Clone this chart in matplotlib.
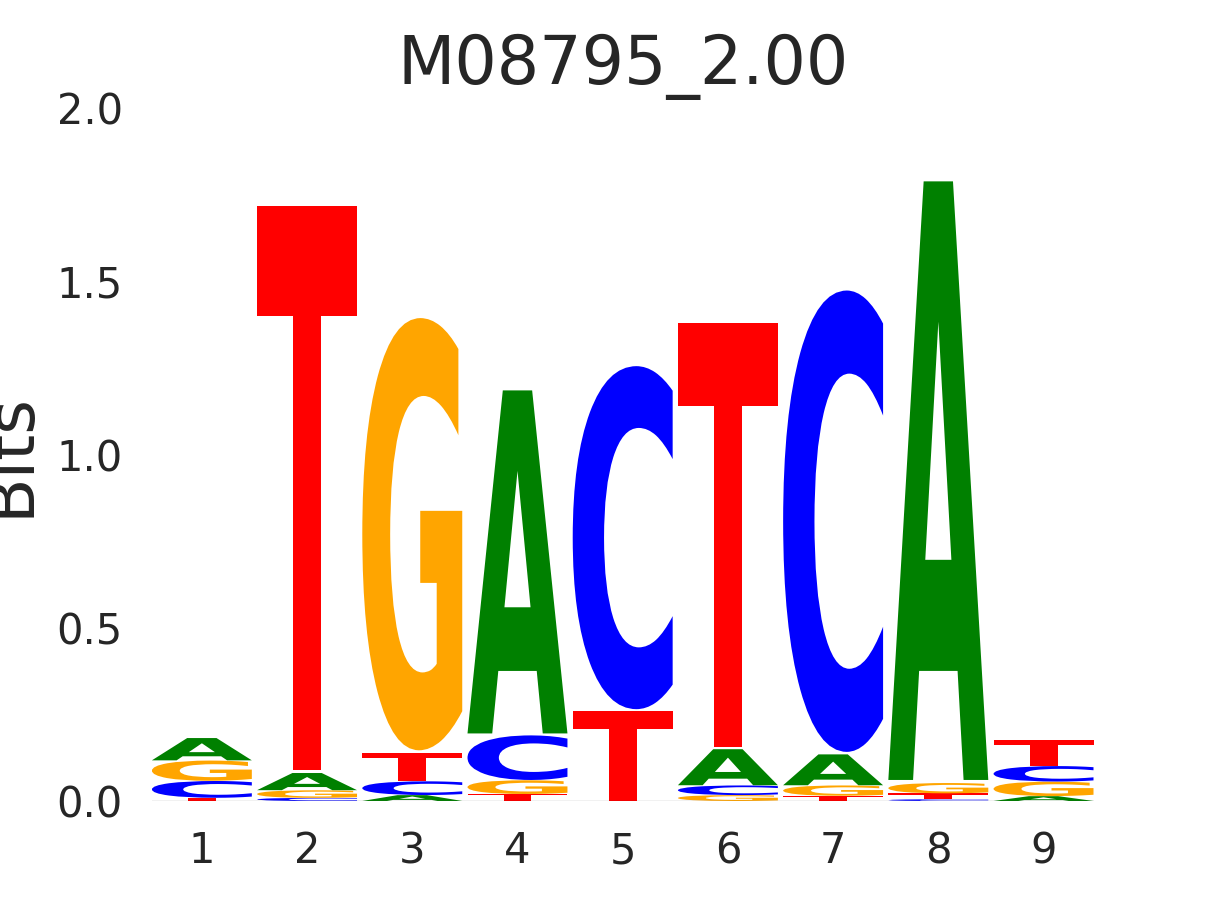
import numpy as np
import matplotlib
matplotlib.use('Agg')
import matplotlib.pyplot as plt
from matplotlib.textpath import TextPath
from matplotlib.patches import PathPatch
from matplotlib.font_manager import FontProperties
from matplotlib.transforms import Affine2D

# information content (bits) per letter at each position
positions = [1, 2, 3, 4, 5, 6, 7, 8, 9]
A_bits = [0.065, 0.050, 0.017, 1.000, 0.000, 0.105, 0.090, 1.745, 0.014]
C_bits = [0.049, 0.009, 0.040, 0.130, 1.000, 0.028, 1.345, 0.005, 0.045]
G_bits = [0.059, 0.022, 1.260, 0.040, 0.000, 0.017, 0.030, 0.030, 0.042]
T_bits = [0.009, 1.645, 0.083, 0.020, 0.260, 1.235, 0.015, 0.017, 0.075]

title = 'M08795_2.00'
colors = {'A': 'green', 'C': '#0000ff', 'G': 'orange', 'T': '#ff0000'}
bits = {'A': A_bits, 'C': C_bits, 'G': G_bits, 'T': T_bits}

font = FontProperties(family='DejaVu Sans', weight='bold')
width = 0.95
vpad = 0.01


def draw_glyph(ax, char, x, bottom, height, color):
    if height <= 0:
        return
    path = TextPath((0, 0), char, size=1, prop=font)
    ext = path.get_extents()
    h = height * (1 - vpad)
    y0 = bottom + height * vpad / 2
    tr = (Affine2D()
          .translate(-ext.x0, -ext.y0)
          .scale(width / ext.width, h / ext.height)
          .translate(x - width / 2, y0))
    ax.add_patch(PathPatch(tr.transform_path(path), facecolor=color,
                           edgecolor='none', lw=0))


fig, ax = plt.subplots(figsize=(12.15, 9), dpi=100)

for i, p in enumerate(positions):
    col = sorted(bits, key=lambda l: bits[l][i])
    bottom = 0.0
    for l in col:
        v = bits[l][i]
        draw_glyph(ax, l, p, bottom, v, colors[l])
        bottom += v

ax.axhline(0, color='black', lw=0.8, zorder=5)
ax.set_xlim(positions[0] - width / 2, positions[-1] + width / 2)
ax.set_ylim(0, 2)
ax.set_xticks(positions)
ax.set_yticks([0, 0.5, 1.0, 1.5, 2.0])
ax.set_yticklabels(['0.0', '0.5', '1.0', '1.5', '2.0'])
for s in ax.spines.values():
    s.set_visible(False)
ax.tick_params(axis='both', length=0, pad=21, labelsize=30, labelcolor='#262626')
ax.set_ylabel('Bits', fontsize=48, color='#262626', labelpad=10)
ax.set_title(title, fontsize=48, color='#262626', pad=17)

fig.savefig('out.png', dpi=100)
